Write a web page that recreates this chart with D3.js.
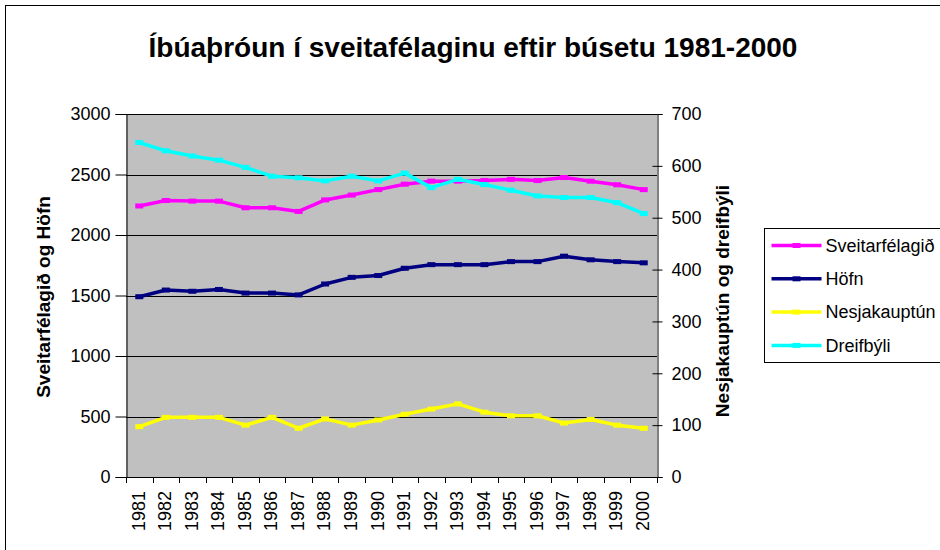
<!DOCTYPE html>
<html>
<head>
<meta charset="utf-8">
<script src="https://cdn.jsdelivr.net/npm/d3@7"></script>
<style>
  body { margin: 0; background: #fff; }
  text { font-family: Arial, "Liberation Sans", sans-serif; fill: #000; }
</style>
</head>
<body>
<div id="chart"></div>
<script>
// years on the x axis
const years = d3.range(1981, 2001).map(String);

// left axis series
const sveitarfelagid = [2240, 2285, 2280, 2280, 2225, 2225, 2195, 2290, 2330, 2375, 2420, 2445, 2445, 2450, 2460, 2450, 2475, 2445, 2415, 2375];
const hofn = [1490, 1545, 1535, 1550, 1520, 1520, 1505, 1595, 1650, 1665, 1725, 1755, 1755, 1755, 1780, 1780, 1825, 1795, 1780, 1770];

// right axis series
const nesjakauptun = [97, 115, 115, 115, 100, 115, 94, 112, 100, 110, 121, 131, 141, 125, 118, 118, 104, 111, 100, 94];
const dreifbyli = [645, 629, 619, 611, 597, 580, 577, 571, 580, 571, 586, 558, 574, 564, 553, 542, 539, 539, 529, 508];

const leftTicks = [0, 500, 1000, 1500, 2000, 2500, 3000];
const rightTicks = [0, 100, 200, 300, 400, 500, 600, 700];

const series = [
    { name: "Sveitarfélagið", values: sveitarfelagid, color: "#ff00ff", axis: "left" },
    { name: "Höfn", values: hofn, color: "#000080", axis: "left" },
    { name: "Nesjakauptún", values: nesjakauptun, color: "#ffff00", axis: "right" },
    { name: "Dreifbýli", values: dreifbyli, color: "#00ffff", axis: "right" }
];

const width = 940, height = 550;
const plot = { left: 126, right: 657, top: 114, bottom: 477 };

const svg = d3.select("#chart").append("svg")
    .attr("width", width)
    .attr("height", height);

// outer chart frame (right/bottom edges fall off the picture)
svg.append("rect")
    .attr("x", 5.5).attr("y", 5.5)
    .attr("width", 1000).attr("height", 1000)
    .attr("fill", "#fff")
    .attr("stroke", "#000");

svg.append("text")
    .attr("x", 473).attr("y", 57)
    .attr("text-anchor", "middle")
    .attr("font-size", "28px")
    .attr("font-weight", "bold")
    .text("Íbúaþróun í sveitafélaginu eftir búsetu 1981-2000");

const x = d3.scaleBand().domain(years).range([plot.left, plot.right]).padding(0);
const yLeft = d3.scaleLinear().domain([0, 3000]).range([plot.bottom, plot.top]);
const yRight = d3.scaleLinear().domain([0, 700]).range([plot.bottom, plot.top]);

// plot background
svg.append("rect")
    .attr("x", plot.left).attr("y", plot.top)
    .attr("width", plot.right - plot.left)
    .attr("height", plot.bottom - plot.top)
    .attr("fill", "#c0c0c0");

// gridlines
svg.append("g")
    .selectAll("line")
    .data(leftTicks.filter(d => d > 0))
    .enter().append("line")
    .attr("x1", plot.left).attr("x2", plot.right)
    .attr("y1", d => Math.round(yLeft(d)) + 0.5)
    .attr("y2", d => Math.round(yLeft(d)) + 0.5)
    .attr("stroke", "#000")
    .attr("stroke-width", 1);

// left axis
const leftAxis = svg.append("g")
    .attr("transform", `translate(${plot.left + 0.5},0)`)
    .call(d3.axisLeft(yLeft).tickValues(leftTicks).tickFormat(d3.format("d")).tickSize(11).tickPadding(5));
leftAxis.selectAll("text").attr("font-size", "18px").attr("font-family", null);

// right axis, ticks cross the line
const rightAxis = svg.append("g")
    .attr("transform", `translate(${plot.right + 0.5},0)`)
    .call(d3.axisRight(yRight).tickValues(rightTicks).tickFormat(d3.format("d")).tickSize(5).tickPadding(9));
rightAxis.selectAll(".tick line").attr("x1", -5);
rightAxis.selectAll("text").attr("font-size", "18px").attr("font-family", null);

// bottom axis with ticks between categories
const xAxis = svg.append("g");
xAxis.append("line")
    .attr("x1", plot.left).attr("x2", plot.right + 1)
    .attr("y1", plot.bottom + 0.5).attr("y2", plot.bottom + 0.5)
    .attr("stroke", "#000");
xAxis.selectAll(".xtick")
    .data(years.map(d => x(d)).concat([x(years[years.length - 1]) + x.bandwidth()]))
    .enter().append("line")
    .attr("class", "xtick")
    .attr("x1", d => Math.round(d) + 0.5).attr("x2", d => Math.round(d) + 0.5)
    .attr("y1", plot.bottom).attr("y2", plot.bottom + 6)
    .attr("stroke", "#000");
xAxis.selectAll(".xlabel")
    .data(years)
    .enter().append("text")
    .attr("class", "xlabel")
    .attr("transform", d => `translate(${x(d) + x.bandwidth() / 2 - 1},${plot.bottom + 14}) rotate(-90)`)
    .attr("text-anchor", "end")
    .attr("dy", "0.35em")
    .attr("font-size", "18px")
    .text(d => d);

svg.selectAll(".domain").attr("stroke", "#000");
svg.selectAll(".tick line").attr("stroke", "#000");

// axis titles
svg.append("text")
    .attr("transform", "translate(43,297) rotate(-90)")
    .attr("text-anchor", "middle")
    .attr("dy", "0.35em")
    .attr("font-size", "19px")
    .attr("font-weight", "bold")
    .text("Sveitarfélagið og Höfn");

svg.append("text")
    .attr("transform", "translate(722,301) rotate(-90)")
    .attr("text-anchor", "middle")
    .attr("dy", "0.35em")
    .attr("font-size", "19px")
    .attr("font-weight", "bold")
    .text("Nesjakauptún og dreifbýli");

// series lines
const cx = d => x(d) + x.bandwidth() / 2;
series.forEach(s => {
    const y = s.axis === "left" ? yLeft : yRight;
    const line = d3.line()
        .x((d, i) => cx(years[i]))
        .y(d => y(d));
    const g = svg.append("g").attr("class", "series");
    g.append("path")
        .datum(s.values)
        .attr("d", line)
        .attr("fill", "none")
        .attr("stroke", s.color)
        .attr("stroke-width", 3.5)
        .attr("stroke-linejoin", "round");
    g.selectAll("rect")
        .data(s.values)
        .enter().append("rect")
        .attr("x", (d, i) => cx(years[i]) - 4)
        .attr("y", d => y(d) - 2.5)
        .attr("width", 8)
        .attr("height", 5)
        .attr("fill", s.color);
});

// legend (its right side runs past the picture edge, as in the original)
const legend = svg.append("g").attr("transform", "translate(764.5,228.5)");
legend.append("rect")
    .attr("width", 300).attr("height", 134)
    .attr("fill", "#fff")
    .attr("stroke", "#000");
const item = legend.selectAll(".item")
    .data(series)
    .enter().append("g")
    .attr("class", "item")
    .attr("transform", (d, i) => `translate(0,${17 + i * 33.3})`);
item.append("line")
    .attr("x1", 7).attr("x2", 57)
    .attr("stroke", d => d.color)
    .attr("stroke-width", 3.5);
item.append("rect")
    .attr("x", 28).attr("y", -2.5)
    .attr("width", 8).attr("height", 5)
    .attr("fill", d => d.color);
item.append("text")
    .attr("x", 61)
    .attr("dy", "0.35em")
    .attr("font-size", "18px")
    .text(d => d.name);
</script>
</body>
</html>
